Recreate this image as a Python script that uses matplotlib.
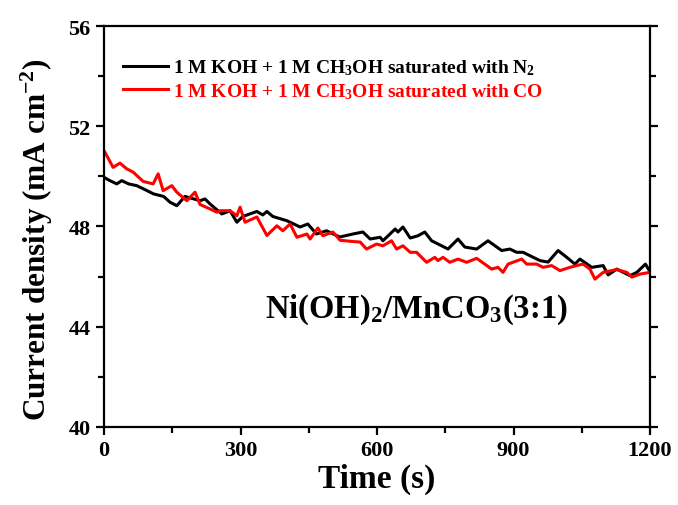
import numpy as np
import matplotlib
matplotlib.use('Agg')
import matplotlib.pyplot as plt
from matplotlib.ticker import MultipleLocator

# chronoamperometry readings
t_n2 = [0, 13, 28, 39, 54, 72, 87, 109, 131, 145, 160, 178, 211, 222, 233, 259,
        277, 292, 305, 336, 349, 358, 371, 402, 431, 448, 467, 489, 518, 547,
        569, 585, 607, 613, 640, 646, 657, 673, 690, 705, 720, 742, 756, 778,
        793, 819, 844, 874, 892, 907, 921, 958, 976, 998, 1017, 1035, 1046,
        1072, 1097, 1108, 1127, 1156, 1171, 1190, 1200]
j_n2 = [49.96, 49.83, 49.7, 49.83, 49.7, 49.63, 49.5, 49.3, 49.2, 48.97, 48.83,
        49.2, 49.03, 49.1, 48.9, 48.5, 48.63, 48.17, 48.4, 48.6, 48.46, 48.6,
        48.4, 48.23, 47.98, 48.1, 47.7, 47.83, 47.58, 47.7, 47.78, 47.5, 47.57,
        47.43, 47.9, 47.78, 47.98, 47.54, 47.63, 47.78, 47.43, 47.23, 47.1,
        47.5, 47.18, 47.1, 47.43, 47.04, 47.1, 46.97, 46.97, 46.64, 46.58,
        47.04, 46.77, 46.5, 46.7, 46.37, 46.44, 46.07, 46.3, 46.04, 46.17,
        46.5, 46.2]

t_co = [0, 20, 35, 50, 64, 86, 108, 119, 130, 149, 160, 182, 200, 211, 233,
        248, 255, 277, 292, 299, 310, 336, 358, 380, 393, 409, 424, 446, 453,
        470, 481, 503, 519, 547, 563, 577, 599, 613, 632, 643, 657, 673, 687,
        709, 727, 734, 745, 760, 778, 797, 819, 852, 866, 877, 888, 918, 929,
        951, 965, 984, 1002, 1024, 1039, 1053, 1068, 1079, 1097, 1127, 1149,
        1160, 1178, 1200]
j_co = [51.03, 50.36, 50.53, 50.3, 50.17, 49.8, 49.7, 50.1, 49.43, 49.63,
        49.37, 49.03, 49.37, 48.88, 48.7, 48.57, 48.63, 48.63, 48.43, 48.77,
        48.17, 48.38, 47.64, 48.03, 47.83, 48.1, 47.57, 47.7, 47.5, 47.94,
        47.63, 47.78, 47.45, 47.4, 47.38, 47.1, 47.3, 47.23, 47.43, 47.1,
        47.23, 46.97, 46.97, 46.57, 46.77, 46.64, 46.77, 46.57, 46.7, 46.57,
        46.73, 46.3, 46.37, 46.17, 46.5, 46.7, 46.5, 46.5, 46.37, 46.44,
        46.24, 46.37, 46.44, 46.5, 46.3, 45.9, 46.17, 46.28, 46.17, 45.98,
        46.1, 46.17]

plt.rcParams['font.family'] = 'Liberation Serif'
plt.rcParams['font.weight'] = 'bold'
plt.rcParams['mathtext.fontset'] = 'custom'
plt.rcParams['mathtext.rm'] = 'Liberation Serif:bold'
plt.rcParams['mathtext.it'] = 'Liberation Serif:bold'
plt.rcParams['mathtext.bf'] = 'Liberation Serif:bold'

fig = plt.figure(figsize=(6.78, 5.06), dpi=100)
ax = fig.add_axes([0.1534, 0.1542, 0.8053, 0.7924])

ax.plot(t_n2, j_n2, color='black', lw=2.2,
        label='1 M KOH + 1 M CH$_3$OH saturated with N$_2$')
ax.plot(t_co, j_co, color='red', lw=2.2,
        label='1 M KOH + 1 M CH$_3$OH saturated with CO')

ax.set_xlim(0, 1200)
ax.set_ylim(40, 56)
ax.xaxis.set_major_locator(MultipleLocator(300))
ax.xaxis.set_minor_locator(MultipleLocator(150))
ax.yaxis.set_major_locator(MultipleLocator(4))
ax.yaxis.set_minor_locator(MultipleLocator(2))

for s in ax.spines.values():
    s.set_linewidth(1.6)
ax.tick_params(which='both', direction='out', width=1.6, labelsize=16,
               right=True, top=False)
ax.tick_params(which='major', length=6)
ax.tick_params(which='minor', length=4)

ax.set_xlabel('Time (s)', fontsize=24, fontweight='bold', labelpad=2)
ax.set_ylabel('Current density (mA cm$^{-2}$)', fontsize=22.5,
              fontweight='bold')
ax.yaxis.set_label_coords(-0.09, 0.47)

ax.text(0.85, 0.274, 'Ni(OH)$_2$/MnCO$_3$(3:1)', transform=ax.transAxes,
        ha='right', va='baseline', fontsize=23.5, fontweight='bold')

leg = ax.legend(loc='upper left', bbox_to_anchor=(0.01, 0.955), frameon=False,
                fontsize=14, handlelength=2.3, handletextpad=0.25,
                labelspacing=0.2, borderaxespad=0.3)
for txt, line in zip(leg.get_texts(), leg.get_lines()):
    txt.set_color(line.get_color())

fig.savefig('out.png', dpi=100)
